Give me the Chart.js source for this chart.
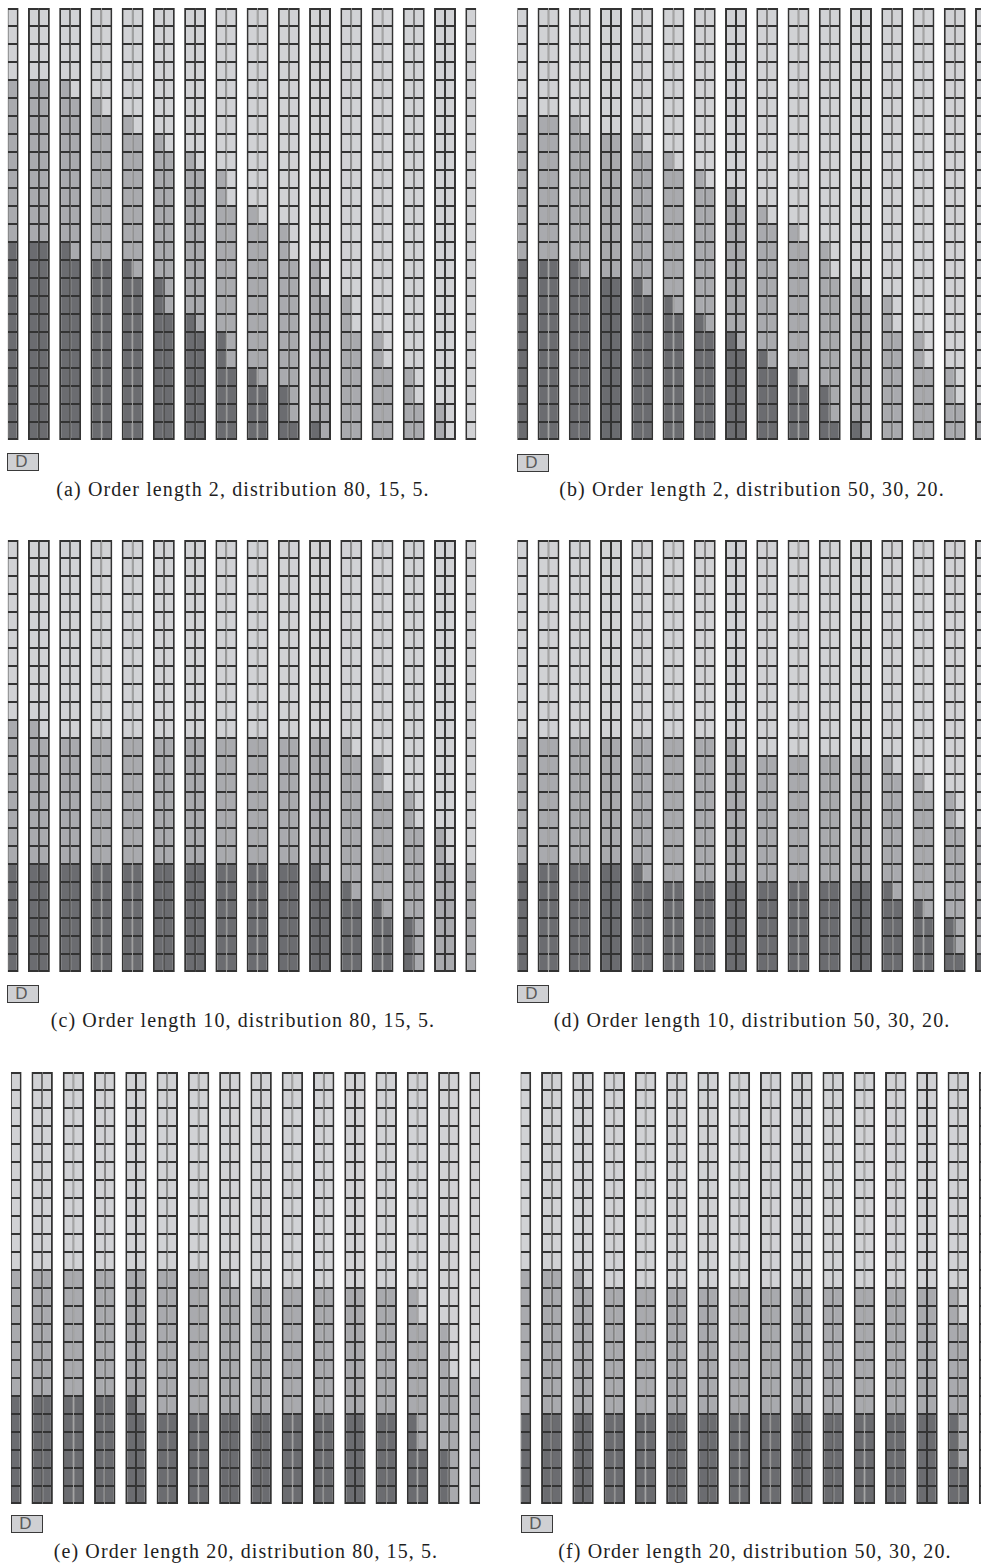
<!DOCTYPE html>
<html>
<head>
<meta charset="utf-8">
<script src="https://cdn.jsdelivr.net/npm/chart.js@4.4.1/dist/chart.umd.min.js"></script>
<style>
  body { margin: 0; background: #fff; }
  #page { position: relative; width: 981px; height: 1565px; overflow: hidden; background: #fff; }
  .panel { position: absolute; display: block; }
  .depot {
    position: absolute; box-sizing: border-box; width: 32px; height: 18px;
    border: 1px solid #3a3a3a; background: #cfd0d3; color: #5a5a5a;
    font: 17px "Liberation Sans", Arial, sans-serif; line-height: 16px;
    text-align: center; padding-right: 3px;
  }
  .caption {
    position: absolute; white-space: nowrap; color: #1e1e1e;
    font: 20px "Liberation Serif", "DejaVu Serif", serif; line-height: 24px;
    letter-spacing: 1.1px;
    transform: translateX(-50%);
  }
</style>
</head>
<body>
<div id="page"></div>
<script>
// 24 storage levels per rack side, racks 0..15 per panel, 15 aisles between them.
// Aisle j is served by the right side of rack j and the left side of rack j+1.
const ROWS = 24;
const racks = [0, 1, 2, 3, 4, 5, 6, 7, 8, 9, 10, 11, 12, 13, 14, 15];

// number of A (dark) and B (medium) locations per aisle, rest is C (light)
const darkA = [11, 11, 10, 10, 9, 7, 6, 4, 3, 1, 0, 0, 0, 0, 0];
const midA  = [9, 9, 9, 8, 8, 9, 9, 9, 9, 9, 8, 6, 4, 2, 0];
const darkB = [10, 10, 9, 9, 8, 7, 6, 5, 4, 3, 1, 0, 0, 0, 0];
const midB  = [8, 8, 8, 8, 8, 8, 8, 8, 8, 8, 8, 8, 6, 4, 2];
const darkC = [6, 6, 6, 6, 6, 6, 6, 6, 6, 6, 5, 4, 3, 0, 0];
const midC  = [8, 7, 7, 7, 7, 7, 7, 7, 7, 7, 8, 8, 7, 8, 6];
const darkD = [6, 6, 6, 6, 5, 5, 5, 5, 5, 5, 5, 5, 4, 3, 1];
const midD  = [7, 7, 7, 7, 8, 8, 8, 7, 7, 7, 7, 7, 7, 7, 7];
const darkE = [6, 6, 6, 6, 5, 5, 5, 5, 5, 5, 5, 5, 5, 3, 0];
const midE  = [7, 7, 7, 7, 8, 8, 8, 7, 7, 7, 7, 7, 7, 7, 7];
const darkF = [5, 5, 5, 5, 5, 5, 5, 5, 5, 5, 5, 5, 5, 5, 2];
const midF  = [8, 8, 7, 7, 7, 7, 7, 7, 7, 7, 7, 7, 7, 7, 8];

const captions = [
  '(a) Order length 2, distribution 80, 15, 5.',
  '(b) Order length 2, distribution 50, 30, 20.',
  '(c) Order length 10, distribution 80, 15, 5.',
  '(d) Order length 10, distribution 50, 30, 20.',
  '(e) Order length 20, distribution 80, 15, 5.',
  '(f) Order length 20, distribution 50, 30, 20.'
];

const COLORS = { A: '#6b6c70', B: '#a9aaae', C: '#d1d2d5', line: '#333333' };

// where each panel sits on the page
const panels = [
  { dark: darkA, mid: midA, left: 0,   top: 8,    width: 490, height: 432, first: 7.66,  pitch: 31.24, side: 10.95, depot: [7, 453],    cap: [243, 477] },
  { dark: darkB, mid: midB, left: 500, top: 8,    width: 481, height: 432, first: 17.25, pitch: 31.25, side: 10.95, depot: [517, 454],  cap: [752, 477] },
  { dark: darkC, mid: midC, left: 0,   top: 540,  width: 490, height: 432, first: 7.66,  pitch: 31.24, side: 10.95, depot: [7, 985],    cap: [243, 1008] },
  { dark: darkD, mid: midD, left: 500, top: 540,  width: 481, height: 432, first: 17.25, pitch: 31.25, side: 10.95, depot: [517, 985],  cap: [752, 1008] },
  { dark: darkE, mid: midE, left: 0,   top: 1072, width: 490, height: 432, first: 10.9,  pitch: 31.28, side: 10.7,  depot: [11, 1515],  cap: [246, 1539] },
  { dark: darkF, mid: midF, left: 500, top: 1072, width: 481, height: 432, first: 20.5,  pitch: 31.27, side: 10.7,  depot: [521, 1515], cap: [755, 1539] }
];

function cellColor(dark, mid, aisle, row) {
  if (row < dark[aisle]) return COLORS.A;
  if (row < dark[aisle] + mid[aisle]) return COLORS.B;
  return COLORS.C;
}

function buildDatasets(p) {
  const sets = [];
  ['L', 'R'].forEach(side => {
    // racks that have this side inside the frame
    const cols = racks.filter(r => {
      const aisle = side === 'L' ? r - 1 : r;
      return aisle >= 0 && aisle < p.dark.length;
    });
    for (let row = 0; row < ROWS; row++) {
      sets.push({
        stack: side,
        data: cols.map(r => ({ x: r, y: 1 })),
        backgroundColor: cols.map(r => cellColor(p.dark, p.mid, side === 'L' ? r - 1 : r, row)),
        // rack outline a bit heavier than the inner cell lines
        borderWidth: {
          left: side === 'L' ? 2 : 1,
          right: side === 'R' ? 2 : 1,
          top: row === ROWS - 1 ? 2 : 1,
          bottom: row === 0 ? 2 : 1
        }
      });
    }
  });
  return sets;
}

const page = document.getElementById('page');

panels.forEach((p, i) => {
  const canvas = document.createElement('canvas');
  canvas.className = 'panel';
  canvas.width = p.width;
  canvas.height = p.height;
  canvas.style.left = p.left + 'px';
  canvas.style.top = p.top + 'px';
  canvas.style.width = p.width + 'px';
  canvas.style.height = p.height + 'px';
  page.appendChild(canvas);

  const xMin = -p.first / p.pitch;
  const xMax = xMin + p.width / p.pitch;

  new Chart(canvas.getContext('2d'), {
    type: 'bar',
    data: { datasets: buildDatasets(p) },
    options: {
      responsive: false,
      animation: false,
      events: [],
      layout: { padding: 0 },
      plugins: { legend: { display: false }, tooltip: { enabled: false } },
      datasets: {
        bar: {
          barThickness: p.side,
          borderColor: COLORS.line,
          borderSkipped: false,
          inflateAmount: 0
        }
      },
      scales: {
        x: { type: 'linear', display: false, offset: false, min: xMin, max: xMax, bounds: 'data' },
        y: { display: false, stacked: true, min: 0, max: ROWS }
      }
    }
  });

  const depot = document.createElement('div');
  depot.className = 'depot';
  depot.style.left = p.depot[0] + 'px';
  depot.style.top = p.depot[1] + 'px';
  depot.textContent = 'D';
  page.appendChild(depot);

  const cap = document.createElement('div');
  cap.className = 'caption';
  cap.style.left = p.cap[0] + 'px';
  cap.style.top = p.cap[1] + 'px';
  cap.textContent = captions[i];
  page.appendChild(cap);
});
</script>
</body>
</html>
